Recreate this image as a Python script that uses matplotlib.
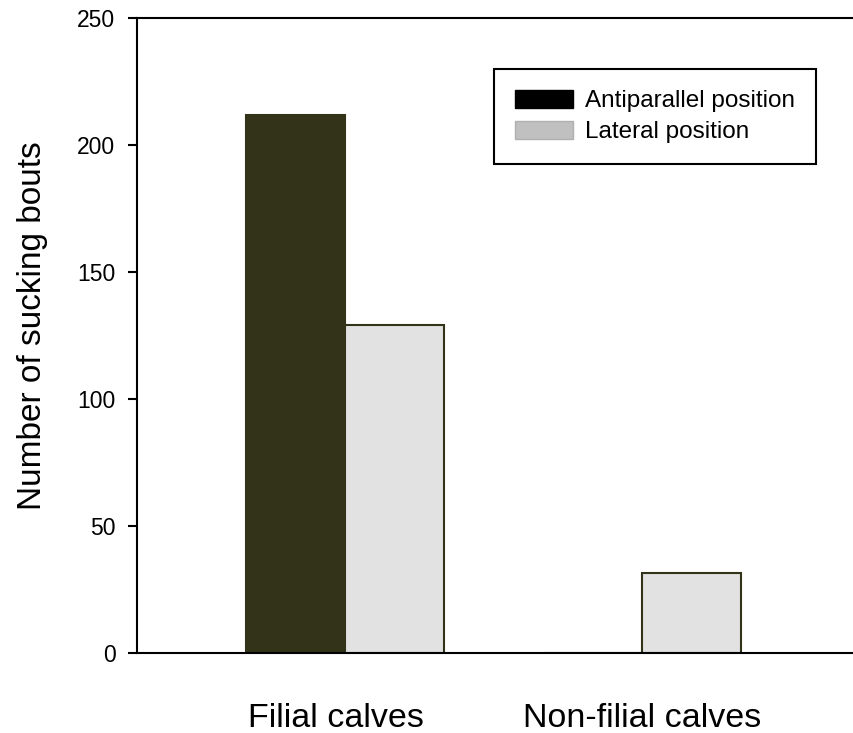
import numpy as np
import matplotlib.pyplot as plt
import matplotlib.transforms as mtransforms
from matplotlib.patches import Patch

plt.rcParams['font.family'] = ['Liberation Sans', 'DejaVu Sans']

groups = ['Filial calves', 'Non-filial calves']
antiparallel = [212, 0]
lateral = [129, 31.5]

dark = '#33331a'
light = '#e2e2e2'

fig = plt.figure(figsize=(8.54, 7.33), dpi=100)
ax = fig.add_axes([137 / 854, 80 / 733, 717 / 854, 635 / 733])

x = np.arange(len(groups))
w = 1 / 3
ax.bar(x - w / 2, antiparallel, w, color=dark, edgecolor=dark, linewidth=1.5)
ax.bar(x + w / 2, lateral, w, color=light, edgecolor=dark, linewidth=1.5)

ax.set_xlim(-0.70, 1.714)
ax.set_ylim(0, 250)
ax.set_yticks([0, 50, 100, 150, 200, 250])
ax.set_xticks(x)
ax.set_xticklabels(groups, fontsize=24.5)
ax.tick_params(axis='x', length=0, pad=36)
ax.tick_params(axis='y', length=6.5, width=1.5, labelsize=16.5, pad=9)
# the first category label sits a little left of its group centre
lab = ax.get_xticklabels()[0]
lab.set_transform(lab.get_transform() +
                  mtransforms.ScaledTranslation(-0.09, 0, fig.dpi_scale_trans))

ax.set_ylabel('Number of sucking bouts', fontsize=24, labelpad=21)
ax.yaxis.label.set_y(0.515)

ax.spines['right'].set_visible(False)
for s in ['left', 'top', 'bottom']:
    ax.spines[s].set_linewidth(1.5)

handles = [Patch(facecolor='black', edgecolor='black'),
           Patch(facecolor='#c0c0c0', edgecolor='#b0b0b0')]
leg = ax.legend(handles, ['Antiparallel position', 'Lateral position'],
                loc='upper left', bbox_to_anchor=(494 / 854, 1 - 69 / 733),
                bbox_transform=fig.transFigure, fontsize=17.5, fancybox=False,
                framealpha=1, edgecolor='black', handlelength=2.4,
                handleheight=0.78, borderpad=0.85, labelspacing=0.35,
                handletextpad=0.5, borderaxespad=0)
leg.get_frame().set_linewidth(1.5)

plt.savefig('out.png', dpi=100)
